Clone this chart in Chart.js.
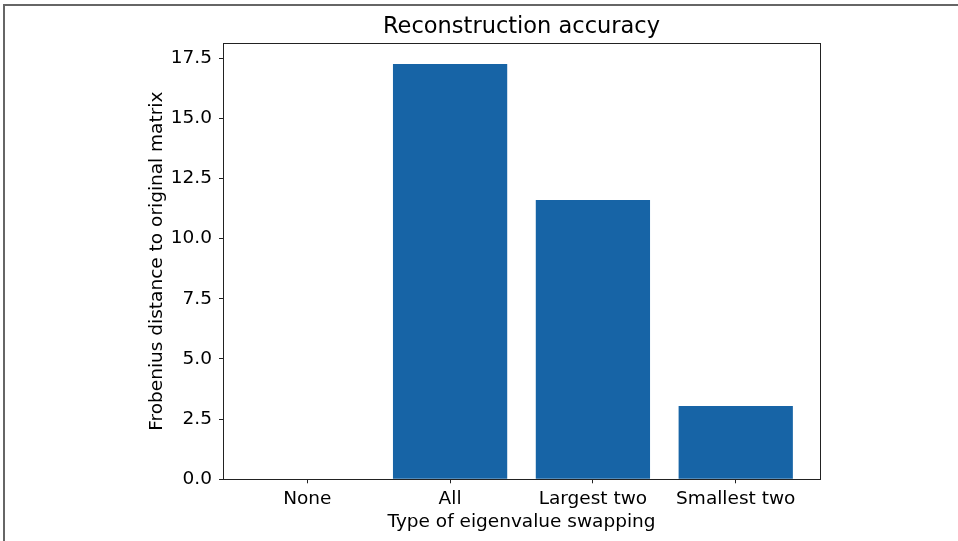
<!DOCTYPE html>
<html>
<head>
<meta charset="utf-8">
<script src="https://cdn.jsdelivr.net/npm/chart.js@4"></script>
<style>
  html, body { margin: 0; padding: 0; background: #fff; }
  #wrap { position: absolute; left: 0; top: 0; width: 958px; height: 541px; }
  #frame { position: absolute; left: 3px; top: 4px; right: 0; bottom: 0;
           border-left: 2px solid #666; border-top: 2px solid #666; pointer-events: none; }
</style>
</head>
<body>
<div id="wrap">
  <canvas id="chart" width="958" height="541"></canvas>
  <div id="frame"></div>
</div>
<script>
// data
const categories = ['None', 'All', 'Largest two', 'Smallest two'];
const distances = [0, 17.26, 11.61, 3.05];
const yTicks = [0, 2.5, 5, 7.5, 10, 12.5, 15, 17.5];
const chartTitle = 'Reconstruction accuracy';

const barColor = '#1764a6';
const inkColor = '#222';
const fontFamily = '"DejaVu Sans", sans-serif';

// frame around the plot area + title centred over the plot area (matplotlib style)
const boxPlugin = {
    id: 'box',
    afterDraw(chart) {
        const a = chart.chartArea;
        const ctx = chart.ctx;
        ctx.save();
        ctx.strokeStyle = inkColor;
        ctx.lineWidth = 1;
        ctx.strokeRect(Math.round(a.left) + 0.5, Math.round(a.top) + 0.5,
                       Math.round(a.right - a.left), Math.round(a.bottom - a.top));
        ctx.fillStyle = '#000';
        ctx.font = '22.5px ' + fontFamily;
        ctx.textAlign = 'center';
        ctx.textBaseline = 'middle';
        ctx.fillText(chartTitle, (a.left + a.right) / 2, 27);
        ctx.restore();
    }
};

const points = categories.map((c, i) => ({ x: i, y: distances[i] }));

new Chart(document.getElementById('chart'), {
    type: 'bar',
    data: {
        datasets: [{
            data: points,
            backgroundColor: barColor,
            borderWidth: 0,
            barPercentage: 0.8,
            categoryPercentage: 1
        }]
    },
    options: {
        responsive: false,
        animation: false,
        layout: { padding: { left: 137, right: 138, top: 43, bottom: 0 } },
        plugins: {
            legend: { display: false },
            tooltip: { enabled: false },
            title: { display: false }
        },
        scales: {
            x: {
                type: 'linear',
                min: -0.59,
                max: 3.59,
                offset: false,
                grid: { display: true, offset: false, drawOnChartArea: false, drawTicks: true,
                        tickLength: 4, tickColor: inkColor },
                border: { display: true, color: inkColor, width: 1 },
                afterBuildTicks(scale) {
                    scale.ticks = categories.map((c, i) => ({ value: i }));
                },
                afterFit(scale) { scale.height = 61.7; },
                ticks: {
                    autoSkip: false,
                    maxRotation: 0,
                    padding: 5,
                    color: '#000',
                    font: { family: fontFamily, size: 18.5 },
                    callback: (v) => categories[v]
                },
                title: {
                    display: true,
                    text: 'Type of eigenvalue swapping',
                    color: '#000',
                    font: { family: fontFamily, size: 18.5 },
                    padding: { top: 0, bottom: 7.5 }
                }
            },
            y: {
                min: 0,
                max: 18.13,
                grid: { display: true, drawOnChartArea: false, drawTicks: true,
                        tickLength: 4, tickColor: inkColor },
                border: { display: true, color: inkColor, width: 1 },
                afterBuildTicks(scale) {
                    scale.ticks = yTicks.map(v => ({ value: v }));
                },
                afterFit(scale) { scale.width = 86; },
                ticks: {
                    padding: 7,
                    color: '#000',
                    font: { family: fontFamily, size: 18.5 },
                    callback: (v) => Number(v).toFixed(1)
                },
                title: {
                    display: true,
                    text: 'Frobenius distance to original matrix',
                    color: '#000',
                    font: { family: fontFamily, size: 18.5 },
                    padding: { top: 9, bottom: 0 }
                }
            }
        }
    },
    plugins: [boxPlugin]
});
</script>
</body>
</html>
